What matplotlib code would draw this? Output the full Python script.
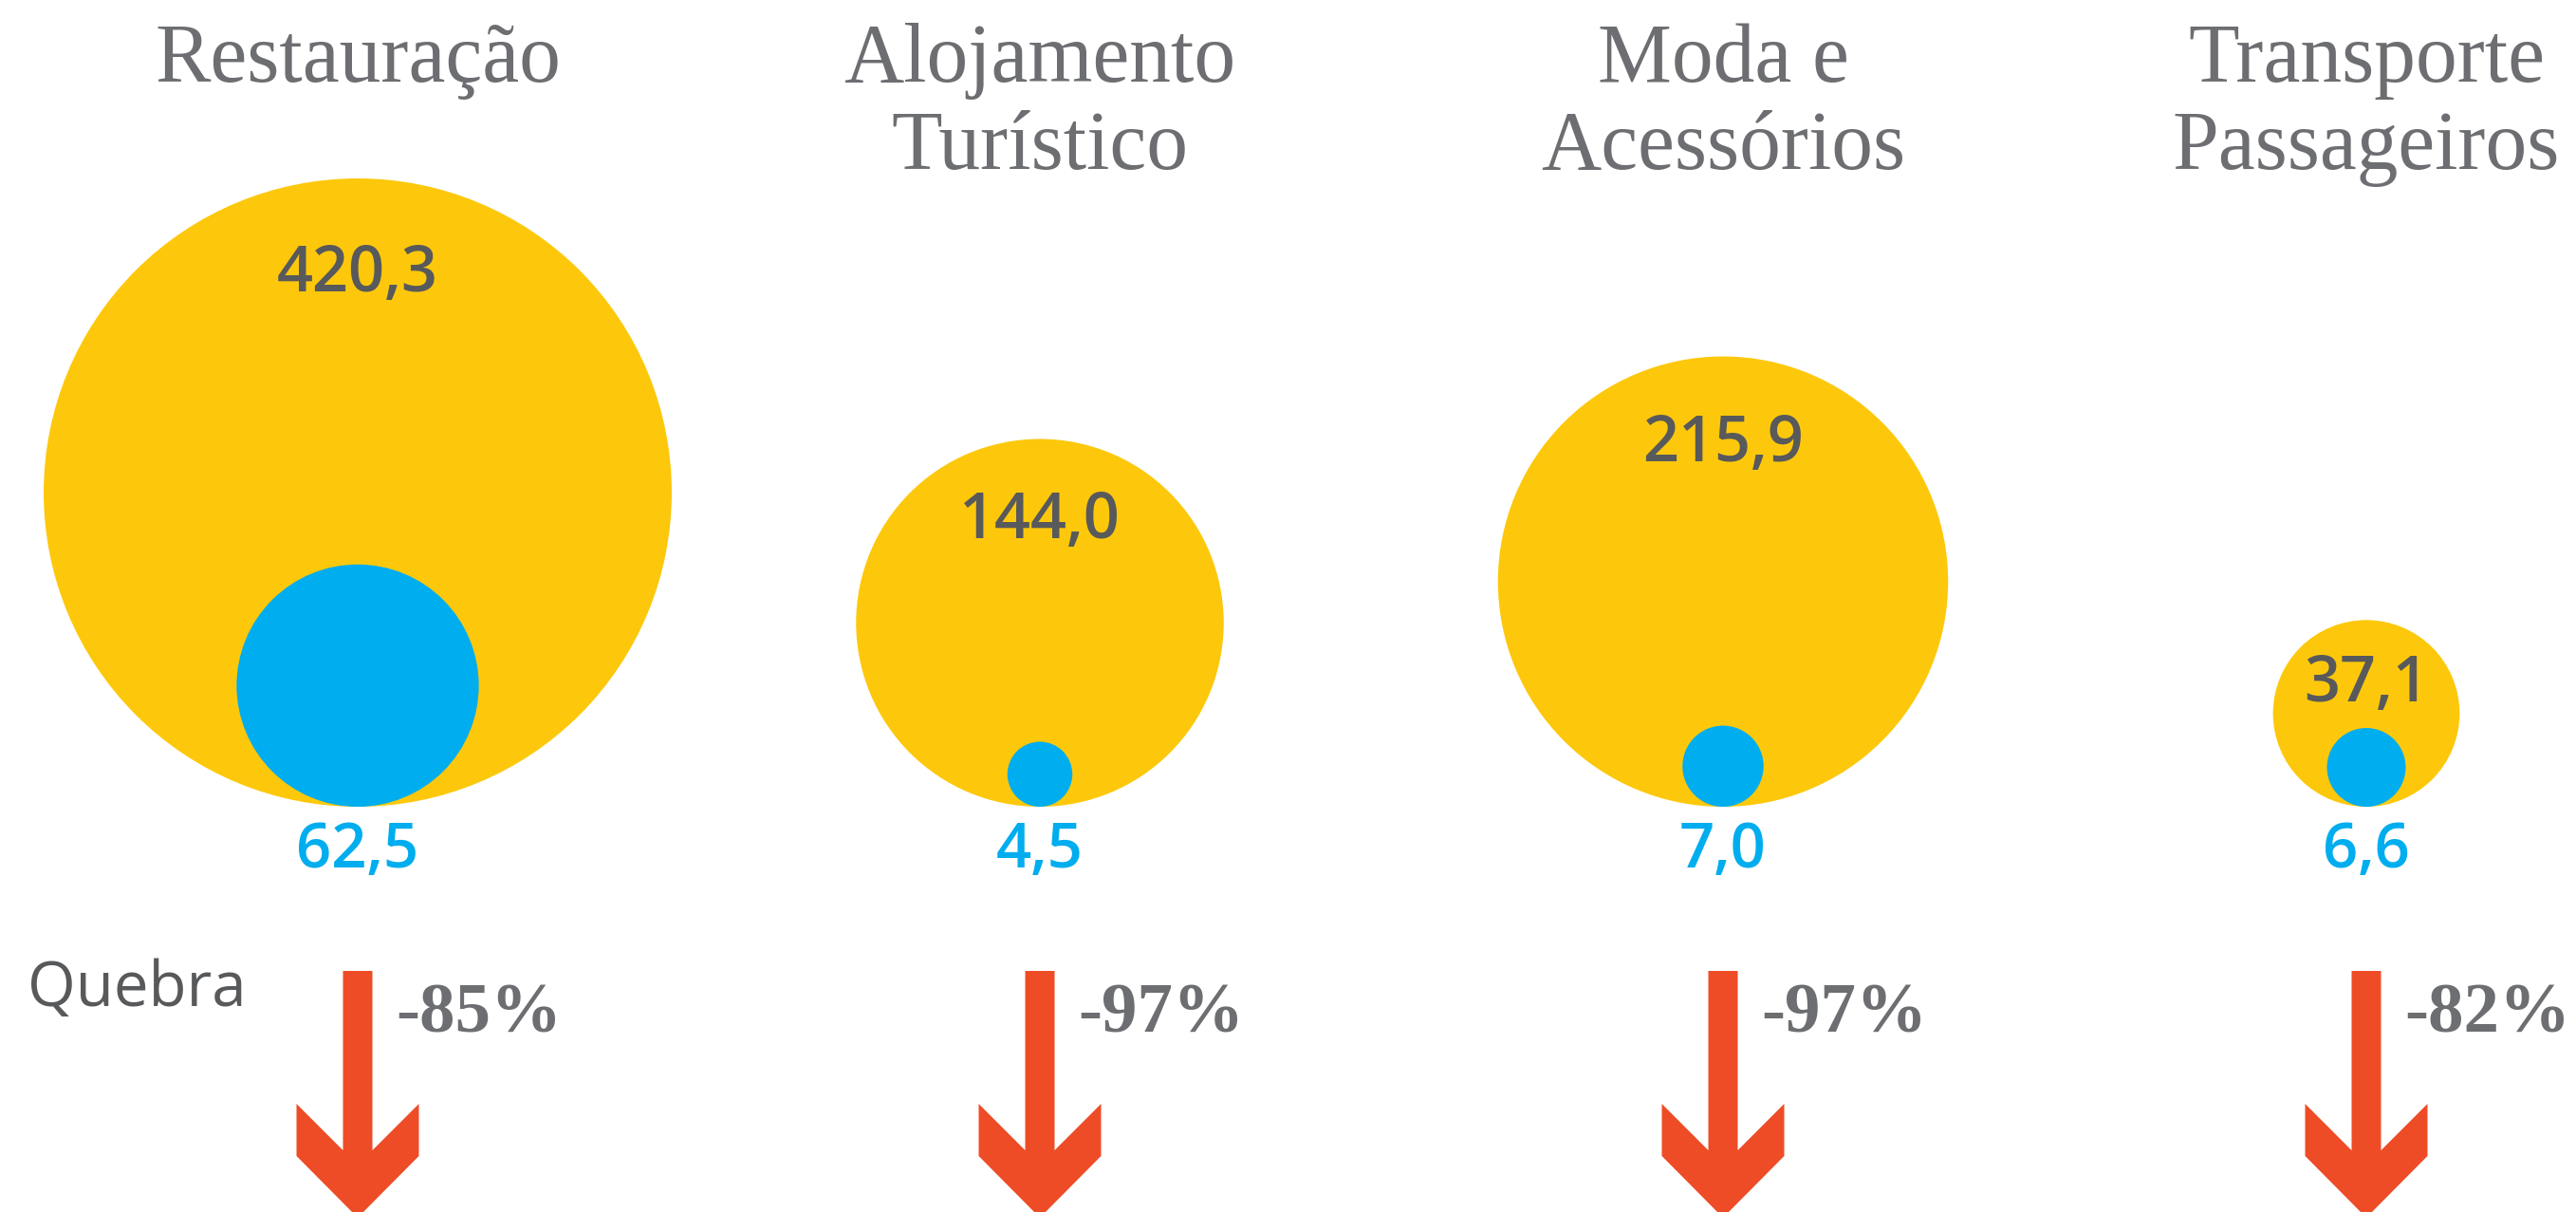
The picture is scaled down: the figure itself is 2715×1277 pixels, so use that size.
import numpy as np
import matplotlib.pyplot as plt
from matplotlib.patches import Circle, Polygon

# data
sectors = [["Restauração"], ["Alojamento", "Turístico"], ["Moda e", "Acessórios"],
           ["Transporte", "Passageiros"]]
before = [420.3, 144.0, 215.9, 37.1]
after = [62.5, 4.5, 7.0, 6.6]
drops = ["-85%", "-97%", "-97%", "-82%"]

# layout (pixels)
W, H = 2715, 1277
col_x = [377, 1096, 1816, 2494]
base_y = 850          # all circles sit on this line
r_max = 331           # radius of the biggest circle
lab_off = [102, 87, 93, 68]

yellow = "#fdc80b"
blue = "#00adee"
red = "#ee4c27"
grey = "#6d6e71"
dark = "#58595b"

fig = plt.figure(figsize=(W / 100, H / 100), dpi=100)
ax = fig.add_axes([0, 0, 1, 1])
ax.set_xlim(0, W)
ax.set_ylim(H, 0)
ax.set_aspect("equal")
ax.axis("off")

scale = r_max / np.sqrt(max(before))

for i in range(len(sectors)):
    x = col_x[i]
    r1 = scale * np.sqrt(before[i])
    r2 = scale * np.sqrt(after[i])
    ax.add_patch(Circle((x, base_y - r1), r1, color=yellow, lw=0))
    ax.add_patch(Circle((x, base_y - r2), r2, color=blue, lw=0))

    # title, one line at a time
    for k, line in enumerate(sectors[i]):
        ax.text(x, 86 + 92 * k, line, ha="center", va="baseline", fontsize=63,
                family="Liberation Serif", color=grey)

    ax.text(x, base_y - 2 * r1 + lab_off[i], f"{before[i]:.1f}".replace(".", ","),
            ha="center", va="center", fontsize=48, family="Open Sans",
            weight="semibold", color=dark)
    ax.text(x, 897, f"{after[i]:.1f}".replace(".", ","),
            ha="center", va="center", fontsize=47, family="Open Sans",
            weight="semibold", color=blue)

    # arrow
    sw, hw = 15.5, 64.5
    pts = [(-sw, 1023), (sw, 1023), (sw, 1212), (hw, 1163), (hw, 1218),
           (0, 1283), (-hw, 1218), (-hw, 1163), (-sw, 1212)]
    ax.add_patch(Polygon([(x + px, py) for px, py in pts], closed=True,
                         color=red, lw=0))
    ax.text(x + 40, 1087, drops[i], ha="left", va="baseline", fontsize=54,
            family="Liberation Serif", weight="bold", color=grey)

ax.text(29, 1060, "Quebra", ha="left", va="baseline", fontsize=47,
        family="Open Sans", color=dark)

fig.savefig("out.png", dpi=100)
